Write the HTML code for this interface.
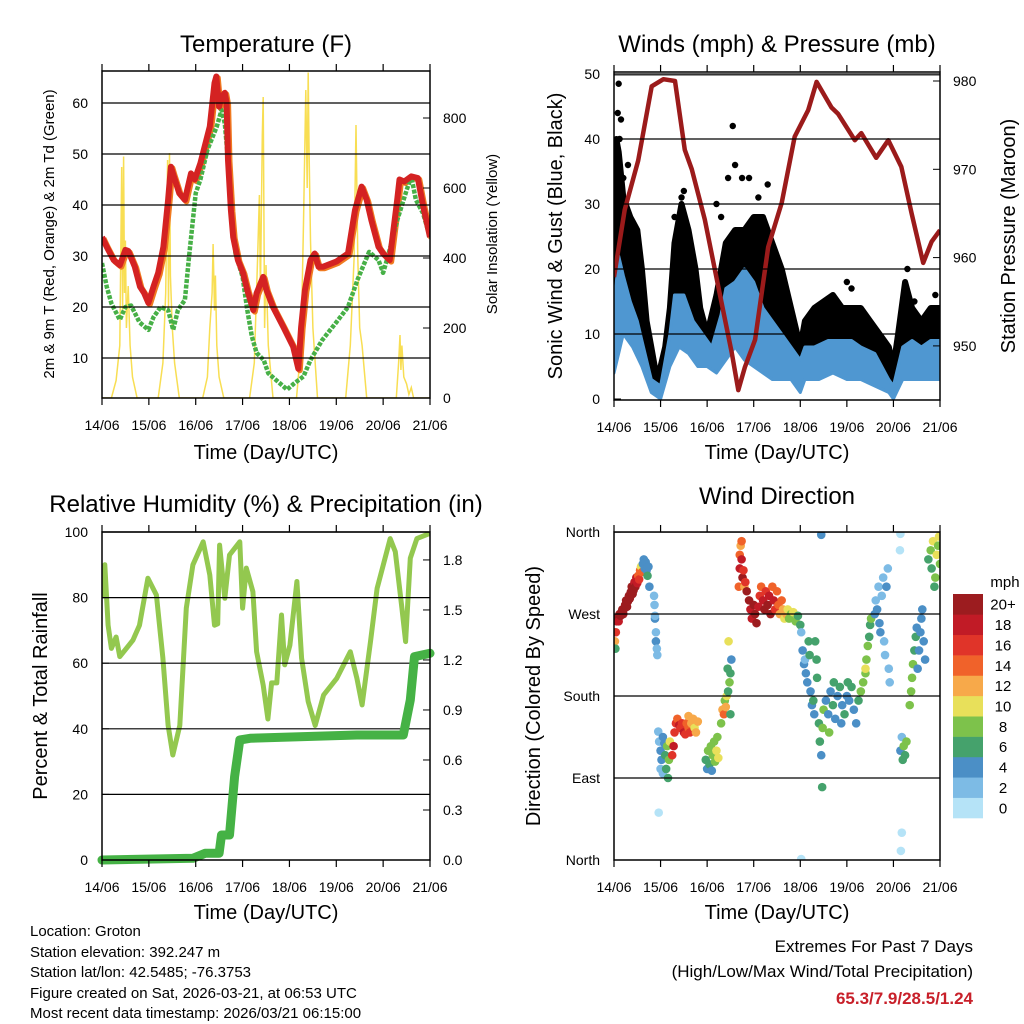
<!DOCTYPE html>
<html><head><meta charset="utf-8"><title>Weather Station Charts</title>
<style>
html,body{margin:0;padding:0;background:#fff;}
svg{display:block;font-family:"Liberation Sans",Arial,sans-serif;}
</style></head>
<body>
<svg id="chart" width="1024" height="1024" viewBox="0 0 1024 1024" xmlns="http://www.w3.org/2000/svg">
<defs>
<clipPath id="c1"><rect x="102" y="71" width="328" height="327"/></clipPath>
<clipPath id="c2"><rect x="614" y="72" width="326" height="328"/></clipPath>
<clipPath id="c3"><rect x="102" y="532" width="328" height="328"/></clipPath>
<clipPath id="c4"><rect x="614" y="532" width="326" height="328"/></clipPath>
</defs>
<g id="layer"></g>
<text x="266" y="52" font-size="24" text-anchor="middle">Temperature (F)</text>
<text x="777" y="52" font-size="24" text-anchor="middle">Winds (mph) &amp; Pressure (mb)</text>
<text x="266" y="512" font-size="24" text-anchor="middle">Relative Humidity (%) &amp; Precipitation (in)</text>
<text x="777" y="504" font-size="24" text-anchor="middle">Wind Direction</text>
<text x="266" y="459" font-size="20" text-anchor="middle">Time (Day/UTC)</text>
<text x="777" y="459" font-size="20" text-anchor="middle">Time (Day/UTC)</text>
<text x="266" y="919" font-size="20" text-anchor="middle">Time (Day/UTC)</text>
<text x="777" y="919" font-size="20" text-anchor="middle">Time (Day/UTC)</text>
<text transform="translate(54,234) rotate(-90)" font-size="15" text-anchor="middle">2m &amp; 9m T (Red, Orange) &amp; 2m Td (Green)</text>
<text transform="translate(497,234) rotate(-90)" font-size="15" text-anchor="middle">Solar Insolation (Yellow)</text>
<text transform="translate(562,236) rotate(-90)" font-size="20" text-anchor="middle">Sonic Wind &amp; Gust (Blue, Black)</text>
<text transform="translate(1015,236) rotate(-90)" font-size="20" text-anchor="middle">Station Pressure (Maroon)</text>
<text transform="translate(47,696) rotate(-90)" font-size="20" text-anchor="middle">Percent &amp; Total Rainfall</text>
<text transform="translate(540,696) rotate(-90)" font-size="20" text-anchor="middle">Direction (Colored By Speed)</text>
<text x="1005" y="587" font-size="15" text-anchor="middle">mph</text>
<g font-size="15">
<text x="30" y="936">Location: Groton</text>
<text x="30" y="957">Station elevation: 392.247 m</text>
<text x="30" y="977">Station lat/lon: 42.5485; -76.3753</text>
<text x="30" y="998">Figure created on Sat, 2026-03-21, at 06:53 UTC</text>
<text x="30" y="1018">Most recent data timestamp: 2026/03/21 06:15:00</text>
</g>
<g text-anchor="end">
<text x="973" y="952" font-size="17">Extremes For Past 7 Days</text>
<text x="973" y="977" font-size="17">(High/Low/Max Wind/Total Precipitation)</text>
<text x="973" y="1004" font-size="17" font-weight="bold" fill="#c8202a">65.3/7.9/28.5/1.24</text>
</g>
</svg>
<script>
// ---------- data ----------
const dayLabels = ["14/06","15/06","16/06","17/06","18/06","19/06","20/06","21/06"];
const tempTicks = [10,20,30,40,50,60];
const solarTicks = [0,200,400,600,800];
const windTicks = [0,10,20,30,40,50];
const presTicks = [950,960,970,980];
const rhTicks = [0,20,40,60,80,100];
const rainTicks = ["0.0","0.3","0.6","0.9","1.2","1.5","1.8"];
const dirTickNames = ["North","East","South","West","North"];
const dirTickDeg = [0,90,180,270,360];
const speedBinLabels = ["0","2","4","6","8","10","12","14","16","18","20+"];
const speedBinColors = ["#b5e3f7","#7dbbe5","#4b8fc6","#45a26c","#7dc24b","#e8e05a","#f7a94a","#f0622a","#e03429","#c11b26","#9c1c1f"];

const tTimes = [0,0.1,0.25,0.38,0.5,0.56,0.7,0.81,0.9,0.99,1.1,1.2,1.31,1.41,1.47,1.52,1.65,1.77,1.9,1.98,2.1,2.3,2.4,2.44,2.5,2.55,2.62,2.66,2.69,2.75,2.8,2.9,3.01,3.1,3.23,3.3,3.44,3.51,3.65,3.87,4.08,4.19,4.25,4.33,4.45,4.54,4.62,4.72,5.0,5.25,5.4,5.54,5.65,5.75,5.9,6.0,6.14,6.3,6.35,6.45,6.6,6.74,6.85,7.0];
const tValues = [33.7,31.8,29.2,28.2,31.2,31,27.9,24,22.7,20.8,24,26.7,31.8,41,47.5,46,42.3,41,46.2,45,48.2,55.4,63.9,65.2,59.3,61.2,62,60,48.8,39,33.7,29.2,26.7,23.3,19.4,22.7,25.9,23.3,20,16.1,12.2,7.9,16,23.3,29.2,30.5,27.9,27.9,28.9,30.5,39,43.6,41,37,31.8,30.5,29.2,41,45,44.6,45.6,45.3,39.9,33.7];
const tdTimes = [0,0.1,0.2,0.38,0.5,0.62,0.8,0.99,1.1,1.25,1.41,1.52,1.62,1.77,1.85,2.0,2.1,2.25,2.45,2.55,2.62,2.69,2.75,2.85,3.0,3.1,3.2,3.3,3.45,3.55,3.8,3.95,4.1,4.3,4.45,4.7,5.0,5.25,5.45,5.7,5.9,6.0,6.1,6.3,6.5,6.6,6.7,6.85,7.0];
const tdValues = [28.6,24,20.7,17.5,20,20.3,17,15.5,18,20,19.4,15.5,19.4,21.4,29.2,42.3,45,50.8,55.4,58.6,56,48.8,39,30.5,25.9,19.4,14.2,11,9.6,7,5,3.8,5,6.4,9.6,13.5,17,20,25.3,30.8,29.2,26.7,29.8,37,42.9,45.6,41,38.4,33.7];
const solarTimes = [0,0.2,0.3,0.38,0.42,0.44,0.46,0.48,0.5,0.52,0.56,0.6,0.65,0.75,1.2,1.3,1.36,1.4,1.42,1.44,1.46,1.5,1.55,1.65,2.15,2.25,2.3,2.35,2.37,2.4,2.42,2.45,2.5,2.6,3.15,3.25,3.32,3.36,3.38,3.42,3.44,3.47,3.5,3.55,3.65,4.15,4.25,4.3,4.35,4.38,4.4,4.42,4.45,4.5,4.6,5.2,5.3,5.38,5.42,5.46,5.5,5.55,5.65,6.28,6.33,6.36,6.38,6.4,6.44,6.5,6.55,6.6,6.65,7.0];
const solarValues = [0,0,50,150,660,250,690,300,450,200,320,150,60,0,0,100,300,680,250,700,350,200,100,0,0,60,200,300,440,250,350,150,60,0,0,100,400,580,300,750,860,200,380,150,0,0,150,500,880,600,930,700,450,200,0,0,150,400,780,400,200,150,0,0,100,180,80,150,60,40,10,30,0,0];

const gustTimes = [0,0.05,0.1,0.2,0.35,0.5,0.6,0.7,0.8,0.9,1.0,1.1,1.2,1.3,1.45,1.6,1.75,1.85,2.0,2.2,2.4,2.6,2.8,3.0,3.2,3.4,3.6,3.8,4.0,4.1,4.3,4.5,4.7,4.9,5.1,5.3,5.5,5.7,5.9,6.0,6.1,6.25,6.4,6.6,6.8,7.0];
const gustHigh = [24,40,38,31,28,26,20,12,8,4,5,8,14,24,30,26,20,14,10,16,24,26,26,28,28,24,20,14,8,12,14,15,16,14,14,14,12,10,8,5,10,18,14,12,14,14];
const windTimes = [0,0.1,0.2,0.35,0.5,0.6,0.8,1.0,1.2,1.3,1.5,1.7,1.9,2.1,2.3,2.4,2.6,2.8,3.0,3.2,3.4,3.6,3.8,4.0,4.1,4.3,4.6,4.9,5.1,5.3,5.6,5.9,6.0,6.2,6.4,6.6,6.8,7.0];
const windHigh = [14,22,19,15,12,9,3,2,10,16,16,12,10,8,13,17,18,20,18,14,12,10,8,6,8,8,9,9,9,8,7,3,2,8,9,8,9,9];
const windLowTimes = [0,0.2,0.4,0.6,0.8,1.0,1.2,1.4,1.6,1.8,2.0,2.2,2.4,2.6,2.8,3.0,3.2,3.4,3.6,3.8,4.0,4.1,4.4,4.7,5.0,5.3,5.6,5.9,6.0,6.2,6.5,6.8,7.0];
const windLow = [4,10,8,5,1,0,5,8,7,5,5,4,6,8,6,5,4,3,3,3,1,3,3,4,3,3,2,1,0,3,3,3,3];
const gustOutT = [0.1,0.12,0.15,0.3,1.45,1.5,2.3,2.45,2.55,2.6,2.75,2.9,3.3,5.1,5.0,6.3,6.45,6.9,0.08,0.2,1.3,2.2,3.1];
const gustOutV = [48.5,40,43,36,31,32,28,34,42,36,34,34,33,17,18,20,15,16,44,34,28,30,31];
const presTimes = [0,0.23,0.52,0.81,1.06,1.31,1.52,1.67,1.95,2.24,2.53,2.67,2.81,3.03,3.31,3.6,3.88,4.17,4.35,4.67,4.81,5.17,5.31,5.63,5.89,6.17,6.39,6.64,6.82,7.0];
const presValues = [957.8,965.4,971,979.4,980.2,980,972.2,970,964.3,956.7,949.2,945,947.6,950.7,961.2,966.2,973.7,976.7,979.9,977,976.3,973.3,974.1,971.3,973.3,970.3,965,959.4,961.8,963.1];

const rhTimes = [0,0.06,0.13,0.2,0.3,0.38,0.66,0.8,0.98,1.16,1.3,1.41,1.51,1.66,1.8,1.94,2.16,2.3,2.4,2.47,2.51,2.62,2.72,2.94,3.0,3.08,3.22,3.3,3.44,3.54,3.62,3.73,3.83,3.9,4.01,4.16,4.26,4.4,4.55,4.73,5.01,5.3,5.44,5.55,5.73,5.87,6.15,6.26,6.4,6.48,6.58,6.72,7.0];
const rhValues = [79.8,90,71.6,64.5,68,62,67,71.6,85.9,80.8,61.5,41.1,32,41,76.8,90,97,86.9,71.6,72,96,79.8,93,97,76.8,89,81.8,63.5,53.3,43,54,54,74.7,59.5,65.5,84.9,61.5,48.3,41,50.3,55.4,63.5,55.4,47.3,66.6,82.8,98,94,76.8,66.6,92,98,99.6];
const rainTimes = [0,1.94,2.2,2.5,2.55,2.72,2.83,2.94,3.16,5.44,6.43,6.58,6.67,7.0];
const rainValues = [0,0.01,0.04,0.04,0.15,0.15,0.5,0.72,0.73,0.75,0.75,0.96,1.22,1.24];

const dirTimes = [0.02,0.03,0.04,0.06,0.08,0.1,0.12,0.14,0.16,0.18,0.2,0.22,0.24,0.26,0.28,0.3,0.32,0.34,0.36,0.38,0.4,0.42,0.44,0.46,0.48,0.5,0.52,0.54,0.56,0.58,0.6,0.62,0.64,0.66,0.68,0.7,0.72,0.74,0.76,0.86,0.87,0.88,0.88,0.9,0.9,0.92,0.93,
0.95,0.97,1.0,1.0,1.02,1.05,1.05,1.08,1.1,1.12,1.14,1.16,1.18,1.2,
1.25,1.28,1.3,1.33,1.36,1.4,1.43,1.46,1.5,1.53,1.56,1.6,1.63,1.66,1.7,1.73,1.76,1.6,1.8,
1.97,2.0,2.02,2.05,2.08,2.1,2.12,2.15,2.17,2.2,2.22,2.24,
2.3,2.33,2.36,2.38,2.4,2.42,2.45,2.48,2.5,2.52,2.44,2.46,2.5,
2.68,2.7,2.7,2.72,2.74,2.74,2.76,2.78,2.8,2.82,2.85,
2.9,2.93,2.96,3.0,3.03,3.06,3.1,3.13,3.16,3.2,3.23,3.26,3.3,3.33,3.36,3.4,3.43,3.46,3.5,3.53,3.56,3.6,3.63,3.66,3.7,3.73,3.76,3.8,3.85,3.9,3.95,4.0,
4.02,4.05,4.08,4.1,4.12,4.15,4.18,4.2,4.22,4.25,4.28,4.3,
4.32,4.35,4.36,4.4,4.42,4.45,4.48,4.5,
4.55,4.6,4.65,4.7,4.75,4.8,4.85,4.9,4.95,5.0,5.05,5.1,5.15,5.2,5.25,5.3,4.62,4.72,4.88,5.02,
5.35,5.4,5.42,5.45,5.48,5.5,5.52,5.4,
5.6,5.62,5.65,5.68,5.7,5.72,5.75,5.78,5.8,5.82,5.85,5.88,5.9,5.92,
6.15,6.18,6.2,6.22,6.25,6.28,
6.35,6.38,6.4,6.42,6.45,6.48,6.5,
6.52,6.55,6.58,6.6,6.62,6.65,6.68,
6.75,6.8,6.82,6.85,6.88,6.9,6.93,6.96,6.98,7.0,
0.96,4.02,4.45,6.15,6.16,6.18,4.47,6.14];
const dirValues = [240,232,250,262,266,262,270,268,272,275,270,276,280,285,278,284,290,287,294,300,292,296,305,300,310,304,312,308,318,322,316,325,330,320,327,318,312,322,300,290,280,265,268,250,240,232,225,
141,130,120,100,110,135,95,128,115,100,125,90,110,130,
115,125,140,150,155,148,145,150,140,138,150,145,140,150,155,145,140,158,152,
110,100,120,105,125,98,115,130,108,120,135,112,
150,165,160,175,168,180,185,195,205,220,210,240,160,
300,320,335,345,350,330,310,318,300,305,295,
285,275,265,280,270,260,278,290,300,285,275,295,280,290,270,300,285,275,295,280,270,285,275,265,270,275,265,270,272,262,268,258,
250,230,215,220,205,195,240,225,185,170,175,160,
240,220,200,150,130,115,145,165,
175,160,185,170,155,180,190,170,160,180,175,190,165,150,175,185,140,195,150,195,
195,205,220,235,245,258,265,210,
270,285,275,300,260,250,290,310,240,225,300,320,210,195,
120,135,110,125,115,130,
170,185,200,215,230,245,255,
210,230,250,265,275,240,220,
330,340,320,350,300,310,335,345,355,325,
52,1,357,358,10,30,80,340];
const dirSpeeds = [12,6,16,18,20,18,20,22,20,22,20,22,22,20,22,22,22,20,22,20,20,22,18,22,18,18,14,16,14,10,14,4,4,4,4,4,6,4,4,2,2,4,2,2,4,2,2,
2,2,4,2,4,4,2,4,6,6,8,6,8,10,
16,18,16,16,14,18,16,16,18,16,14,14,16,12,12,10,12,12,12,
6,4,8,6,8,4,8,8,8,10,8,10,
8,12,14,8,12,10,6,8,6,4,6,10,6,
14,18,14,12,14,18,20,16,12,16,20,
20,18,18,20,20,20,18,16,14,18,20,16,20,18,20,14,18,16,14,14,12,14,12,10,12,10,8,8,10,8,6,6,
2,4,4,2,4,4,6,6,4,4,6,4,
6,6,6,6,6,4,8,8,
4,4,4,6,4,4,6,4,6,4,4,6,4,4,6,8,8,6,4,6,
8,8,8,8,6,6,8,10,
4,2,4,2,4,4,2,2,2,2,4,2,2,2,
4,2,6,8,6,8,
8,8,8,8,6,6,4,
4,4,4,4,4,4,4,
6,8,6,10,6,8,10,8,10,8,
0,0,4,0,0,0,6,0];

// ---------- helpers ----------
const NS = "http://www.w3.org/2000/svg";
const layer = document.getElementById('layer');
function mk(tag, attrs, parent){
  const el = document.createElementNS(NS, tag);
  for (const k in attrs) el.setAttribute(k, attrs[k]);
  (parent||layer).appendChild(el);
  return el;
}
function pts(ts, vs, fx, fy){ return ts.map((t,i)=>fx(t).toFixed(1)+','+fy(vs[i]).toFixed(1)).join(' '); }

const P = {
  temp:{x0:102,x1:430,y0:71,y1:398},
  wind:{x0:614,x1:940,y0:72,y1:400},
  rh:{x0:102,x1:430,y0:532,y1:860},
  dir:{x0:614,x1:940,y0:532,y1:860}
};
function xs(p){ return d => p.x0 + d*(p.x1-p.x0)/7; }
const tx = xs(P.temp), wx = xs(P.wind), hx = xs(P.rh), dx = xs(P.dir);
const tempY = v => 409 - v*5.1;
const solarY = v => 398 - v*0.35;
const windY = v => 399 - v*6.5;
const presY = p => 81 + (980-p)*8.83;
const rhY = v => 860 - v*3.28;
const rainY = v => 860 - v*166.7;
const dirY = d => 860 - d*0.911;

function xAxis(p, fx, name){
  const g = mk('g', {});
  
  
  dayLabels.forEach((lab,i)=>{
    const x = fx(i);
    const tk = mk('line',{x1:x,x2:x,y1:p.y1,y2:p.y1+7,stroke:'#000','stroke-width':1.2}, g);
    
    
    const tt = mk('line',{x1:x,x2:x,y1:p.y0,y2:p.y0-7,stroke:'#000','stroke-width':1.2}, g);
    
    
    const t = mk('text',{x:x,y:p.y1+32,'font-size':14,'text-anchor':'middle'}, g);
    
    
    t.textContent = lab;
  });
}
function yAxis(p, values, labels, fy, side, name, grid){
  const g = mk('g', {});
  
  
  values.forEach((v,i)=>{
    const y = fy(v);
    if (grid && y > p.y0-1 && y < p.y1-1){
      const gl = mk('line',{x1:p.x0,x2:p.x1,y1:y,y2:y,stroke:'#000','stroke-width':1.2}, g);
      
      
    }
    const xEdge = side==='left'?p.x0:p.x1;
    const tk = mk('line',{x1:xEdge,x2:side==='left'?xEdge+7:xEdge-7,y1:y,y2:y,stroke:'#000','stroke-width':1}, g);
    
    
    const t = mk('text',{x:side==='left'?p.x0-14:p.x1+13,y:y+5,'font-size':14,'text-anchor':side==='left'?'end':'start'}, g);
    
    
    t.textContent = labels[i];
  });
}
function frame(p, name){
  const r = mk('rect',{x:p.x0,y:p.y0,width:p.x1-p.x0,height:p.y1-p.y0,fill:'none',stroke:'#000','stroke-width':1.5});
  
  
}

// ---------- panel 1: temperature ----------
const g1 = mk('g',{'clip-path':'url(#c1)'});


yAxis(P.temp, tempTicks, tempTicks.map(String), tempY, 'left', 'temperature-y-axis', true);
yAxis(P.temp, solarTicks, solarTicks.map(String), solarY, 'right', 'solar-y-axis', false);
const solar = mk('polyline',{points:pts(solarTimes,solarValues,tx,solarY),fill:'none',stroke:'#f8dc4a','stroke-width':1.5,'stroke-opacity':0.95}, g1);


const t9 = mk('polyline',{points:pts(tTimes,tValues,t=>tx(t)+1.5,v=>tempY(v)+1.5),fill:'none',stroke:'#f07a20','stroke-width':6,'stroke-linejoin':'round'}, g1);


const td = mk('polyline',{points:pts(tdTimes,tdValues,tx,tempY),fill:'none',stroke:'#47b047','stroke-width':4.5,'stroke-dasharray':'4 1.5','stroke-linejoin':'round'}, g1);


const t2 = mk('polyline',{points:pts(tTimes,tValues,tx,tempY),fill:'none',stroke:'#d42222','stroke-width':6,'stroke-linejoin':'round'}, g1);


xAxis(P.temp, tx, 'temperature-x-axis');
frame(P.temp, 'temperature-frame');

// ---------- panel 2: winds & pressure ----------
const g2 = mk('g',{'clip-path':'url(#c2)'});


yAxis(P.wind, windTicks, windTicks.map(String), windY, 'left', 'wind-y-axis', true);
yAxis(P.wind, presTicks, presTicks.map(String), presY, 'right', 'pressure-y-axis', false);
const gustPoly = pts(gustTimes,gustHigh,wx,windY) + ' ' + pts(windTimes.slice().reverse(),windHigh.slice().reverse(),wx,windY);
const gust = mk('polygon',{points:gustPoly,fill:'#000',stroke:'#000','stroke-width':6,'stroke-linejoin':'round'}, g2);


gustOutT.forEach((t,i)=>{
  const c = mk('circle',{cx:wx(t),cy:windY(gustOutV[i]),r:3.2,fill:'#000'}, g2);
  
  
});
const sustPoly = pts(windTimes,windHigh,wx,windY) + ' ' + pts(windLowTimes.slice().reverse(),windLow.slice().reverse(),wx,windY);
const sust = mk('polygon',{points:sustPoly,fill:'#4f97d1',stroke:'#4f97d1','stroke-width':3,'stroke-linejoin':'round'}, g2);


const pres = mk('polyline',{points:pts(presTimes,presValues,wx,presY),fill:'none',stroke:'#9b1b1b','stroke-width':4.5,'stroke-linejoin':'round'}, g2);


const topLine = mk('line',{x1:614,x2:940,y1:75,y2:75,stroke:'#555','stroke-width':1.2});


xAxis(P.wind, wx, 'winds-x-axis');
frame(P.wind, 'winds-frame');

// ---------- panel 3: humidity & rain ----------
const g3 = mk('g',{'clip-path':'url(#c3)'});


yAxis(P.rh, rhTicks, rhTicks.map(String), rhY, 'left', 'humidity-y-axis', true);
yAxis(P.rh, rainTicks.map(Number), rainTicks, rainY, 'right', 'rain-y-axis', false);
const rh = mk('polyline',{points:pts(rhTimes,rhValues,hx,rhY),fill:'none',stroke:'#93c84f','stroke-width':5,'stroke-linejoin':'round'}, g3);


const rain = mk('polyline',{points:pts(rainTimes,rainValues,hx,rainY),fill:'none',stroke:'#45b245','stroke-width':9,'stroke-linejoin':'round','stroke-linecap':'round'}, layer);


xAxis(P.rh, hx, 'humidity-x-axis');
frame(P.rh, 'humidity-frame');

// ---------- panel 4: wind direction ----------
const g4 = mk('g',{'clip-path':'url(#c4)'});


yAxis(P.dir, dirTickDeg, dirTickNames, dirY, 'left', 'direction-y-axis', true);
dirTimes.forEach((t,i)=>{
  const bin = Math.min(10, Math.floor(dirSpeeds[i]/2));
  const c = mk('circle',{cx:dx(t),cy:dirY(dirValues[i]),r:4.3,fill:speedBinColors[bin]}, g4);
  
  
});
xAxis(P.dir, dx, 'direction-x-axis');
frame(P.dir, 'direction-frame');

// colorbar
const cb = mk('g',{});


const binH = (818-594)/11;
speedBinLabels.forEach((lab,i)=>{
  const y = 818 - (i+1)*binH;
  const r = mk('rect',{x:953,y:y,width:30,height:binH+0.3,fill:speedBinColors[i]}, cb);
  
  
  const t = mk('text',{x:1003,y:y+binH/2+5.5,'font-size':15,'text-anchor':'middle'}, cb);
  
  
  t.textContent = lab;
});
</script>
</body></html>
